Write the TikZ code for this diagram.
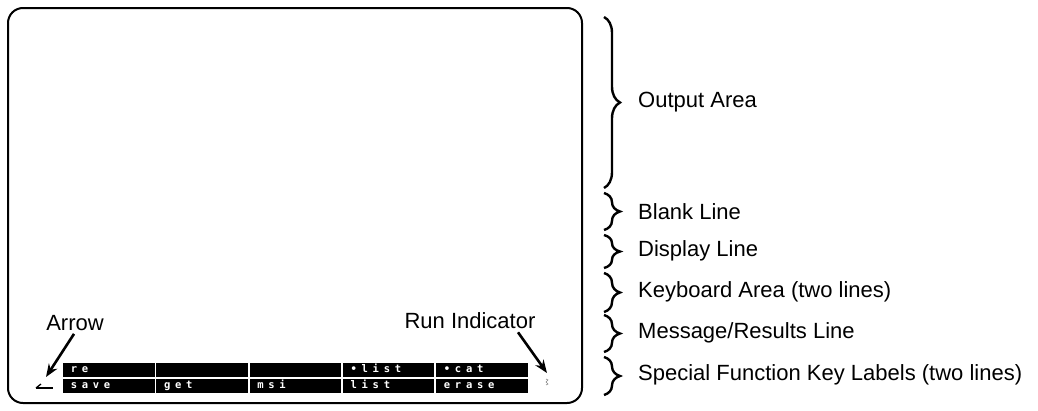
\documentclass[tikz,border=0pt]{standalone}
\usepackage{fontspec}
\setmainfont{Liberation Sans}
\newfontfamily\keyfont[LetterSpace=45]{DejaVu Sans Mono}
\usetikzlibrary{decorations.pathreplacing,arrows.meta}
\tikzset{
  screen/.style={line width=2pt, rounded corners=15pt},
  fkey/.style={fill=black, text=white, inner sep=0pt, minimum width=91.5pt,
    minimum height=14pt, text width=76pt, text height=7.5pt, text depth=2pt,
    align=left, font=\keyfont\fontsize{10.5pt}{10.5pt}\selectfont\bfseries},
  rbrace/.style={decorate, decoration={brace, amplitude=16pt}, line width=2.4pt},
  lbl/.style={anchor=west, inner sep=0pt, font=\fontsize{22pt}{24pt}\selectfont},
  callout/.style={inner sep=0pt, font=\fontsize{22pt}{24pt}\selectfont},
  pointer/.style={line width=2.6pt, -{Stealth[length=13pt,width=10pt]}}
}
\begin{document}
\begin{tikzpicture}[x=1pt,y=1pt]
\useasboundingbox (0,0) rectangle (1038,-410);

% display screen outline
\draw[screen] (8,-8) rectangle (582,-403);

% special function key labels, two rows of five
\foreach \i/\t in {1/re, 2/{}, 3/{}, 4/{•list}, 5/{•cat}}
  \node[fkey] (t\i) at ({108.75+93.3*(\i-1)},-369.5) {\t};
\foreach \i/\t in {1/save, 2/get, 3/msi, 4/list, 5/erase}
  \node[fkey] (b\i) at ({108.75+93.3*(\i-1)},-386) {\t};

% cursor arrow on the display line
\coordinate (cursor) at (44,-388);
\draw[line width=1.3pt] (36,-388) -- (53,-388);
\draw[line width=1.3pt] (36,-388) -- (41,-384);

% run indicator mark
\coordinate (runmark) at (547,-382);
\draw[gray, line width=0.6pt] (546,-379) -- (548,-380) -- (546,-382) -- (548,-384) -- (546,-385);

% callouts inside the screen
\node[callout] (arrowlbl) at (75,-323) {Arrow};
\node[callout] (runlbl) at (470,-321) {Run Indicator};
\coordinate (arrowtip) at (46,-377);
\coordinate (runtip) at (547,-373);
\draw[pointer] ([xshift=-1pt,yshift=-3pt]arrowlbl.south) -- (arrowtip);
\draw[pointer] ([xshift=48pt,yshift=-3pt]runlbl.south) -- (runtip);

% region braces and their labels
\node[lbl] (outl) at (638,-102) {Output Area};
\node[lbl] (blankl) at (638,-212) {Blank Line};
\node[lbl] (displ) at (638,-251) {Display Line};
\node[lbl] (kbdl) at (638,-292) {Keyboard Area (two lines)};
\node[lbl] (msgl) at (638,-333) {Message/Results Line};
\node[lbl] (sfkl) at (638,-375) {Special Function Key Labels (two lines)};

\draw[rbrace] (604,-17) -- (604,-188);
\draw[rbrace] (604,-193) -- (604,-230);
\draw[rbrace] (604,-235) -- (604,-268);
\draw[rbrace] (604,-273) -- (604,-312);
\draw[rbrace] (604,-315) -- (604,-352);
\draw[rbrace] (604,-357) -- (604,-395);
\end{tikzpicture}
\end{document}
